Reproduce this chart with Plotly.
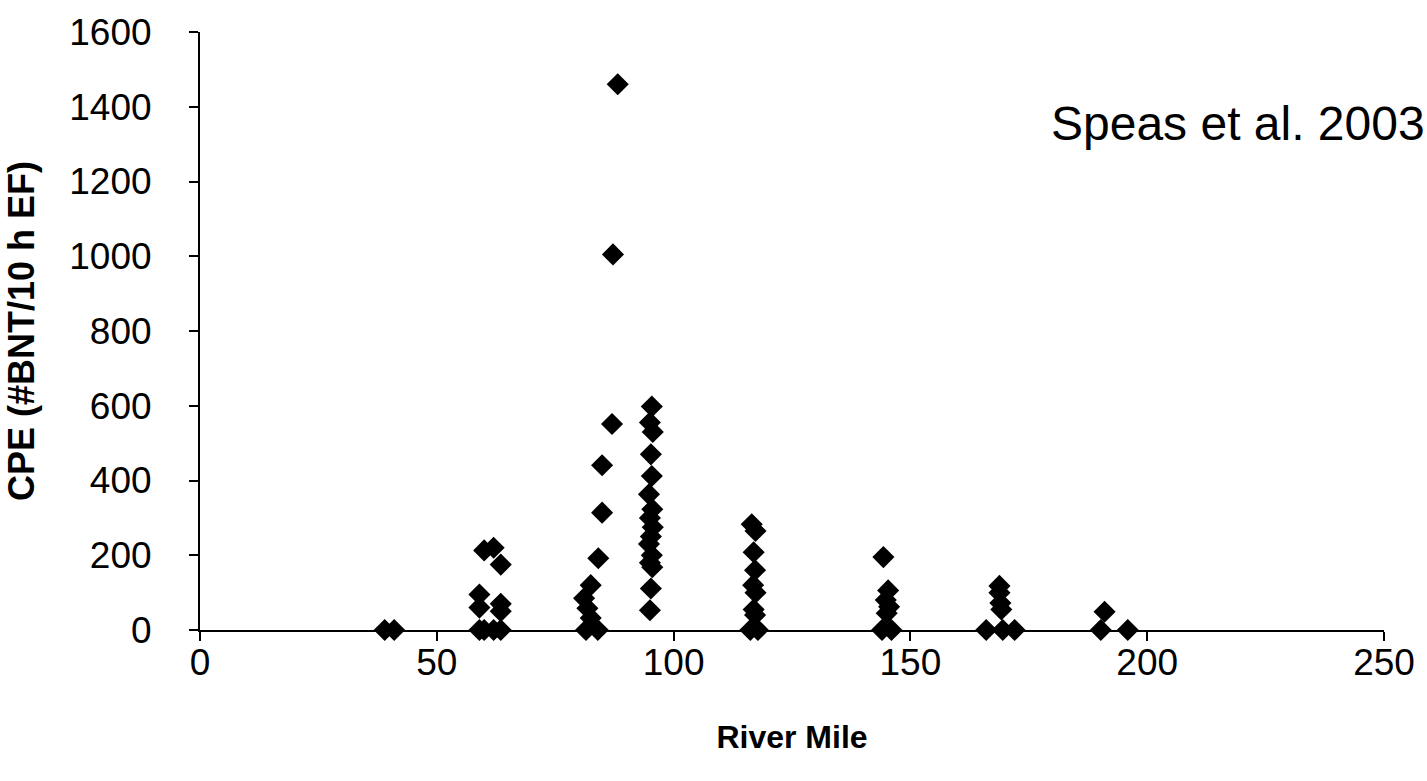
import plotly.graph_objects as go

# River mile (x) and CPE (#BNT/10 h EF) (y)
river_mile = [
    39, 41,
    59, 59, 59, 60, 60, 62, 62, 63.5, 63.5, 63.5, 63.5,
    81.5, 81.1, 81.8, 82.5, 82.5, 84, 84.1, 84.9, 84.9, 87, 87.2, 88.2,
    95.4, 95.0, 95.6, 95.2, 95.4, 94.8, 95.5, 95.0, 95.6, 95.2, 94.8, 95.4, 95.0, 95.5, 95.2, 95.0,
    116.5, 117.3, 116.9, 117.2, 116.8, 117.3, 116.9, 117.2, 116.2, 117.8,
    144.3, 145.3, 144.8, 145.5, 145.0, 144.0, 146.0,
    168.8, 168.8, 169.0, 169.2, 166.0, 169.5, 172.0,
    191.0, 190.2, 195.9,
]
cpe = [
    0, 0,
    95, 60, 0, 213, 0, 220, 0, 175, 70, 50, 0,
    0, 85, 58, 120, 32, 0, 192, 314, 441, 551, 1005, 1460,
    598, 555, 530, 470, 412, 363, 323, 300, 275, 250, 230, 200, 180, 168, 111, 53,
    283, 265, 208, 160, 120, 100, 55, 40, 0, 0,
    195, 106, 80, 62, 45, 0, 0,
    118, 100, 72, 55, 0, 0, 0,
    49, 0, 0,
]

x_ticks = [0, 50, 100, 150, 200, 250]
y_ticks = [0, 200, 400, 600, 800, 1000, 1200, 1400, 1600]

FONT = "Liberation Sans, Arial, sans-serif"

fig = go.Figure()
fig.add_trace(go.Scatter(
    x=river_mile, y=cpe, mode="markers",
    marker=dict(symbol="diamond", size=17, color="black", line=dict(width=0)),
    showlegend=False, cliponaxis=False,
))

fig.update_layout(
    width=1427, height=781,
    margin=dict(l=200, r=40, t=28, b=151),
    paper_bgcolor="white", plot_bgcolor="white",
    font=dict(family=FONT, color="black"),
    annotations=[dict(
        text="Speas et al. 2003", x=179.2, y=1355, xref="x", yref="y",
        xanchor="left", yanchor="middle", showarrow=False,
        font=dict(family=FONT, size=48, color="black"),
    )],
)
fig.update_xaxes(
    range=[0, 250], tickvals=x_ticks, ticktext=[str(v) for v in x_ticks],
    showgrid=False, zeroline=False, showline=True, linecolor="black", linewidth=2,
    ticks="outside", ticklen=9, tickwidth=2, tickcolor="black",
    tickfont=dict(family=FONT, size=37, color="black"),
    ticklabelstandoff=-10,
    title=dict(text="<b>River Mile</b>", font=dict(family=FONT, size=32, color="black"), standoff=43),
)
fig.update_yaxes(
    range=[0, 1600], tickvals=y_ticks, ticktext=[str(v) for v in y_ticks],
    showgrid=False, zeroline=False, showline=True, linecolor="black", linewidth=2,
    ticks="outside", ticklen=9, tickwidth=2, tickcolor="black",
    tickfont=dict(family=FONT, size=37, color="black"),
    ticklabelstandoff=30,
    title=dict(text="<b>CPE (#BNT/10 h EF)</b>", font=dict(family=FONT, size=36, color="black"), standoff=24),
)

fig.write_html("out.html")
